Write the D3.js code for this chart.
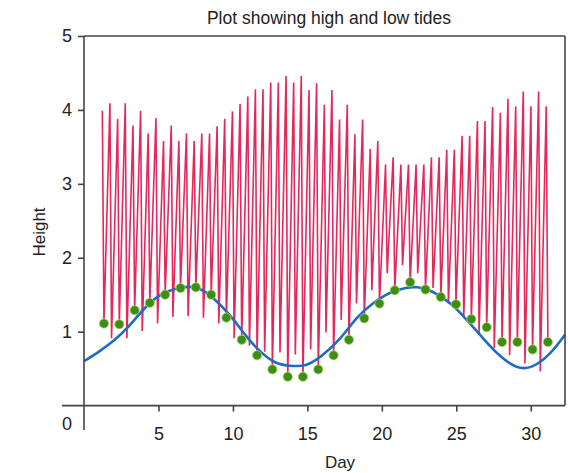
<!DOCTYPE html>
<html>
<head>
<meta charset="utf-8">
<script src="https://cdn.jsdelivr.net/npm/d3@7"></script>
<style>
    body { margin: 0; background: #fff; }
    svg text { font-family: "Liberation Sans Narrow", "Arial Narrow", "Liberation Sans", Arial, sans-serif; fill: #222; }
</style>
</head>
<body>
<div id="chart"></div>
<script>
// high tides (day, height)
const highDay = [1.23, 1.74, 2.26, 2.77, 3.29, 3.80, 4.31, 4.83, 5.34, 5.86,
    6.37, 6.88, 7.40, 7.91, 8.43, 8.94, 9.45, 9.97, 10.48, 11.00,
    11.51, 12.02, 12.54, 13.05, 13.57, 14.08, 14.59, 15.11, 15.62, 16.14,
    16.65, 17.16, 17.68, 18.19, 18.71, 19.22, 19.73, 20.25, 20.76, 21.28,
    21.79, 22.30, 22.82, 23.33, 23.85, 24.36, 24.87, 25.39, 25.90, 26.42,
    26.93, 27.44, 27.96, 28.47, 28.99, 29.50, 30.01, 30.53, 31.04];
const highHeight = [3.99, 4.09, 3.88, 4.09, 3.79, 3.99, 3.68, 3.89, 3.58, 3.79,
    3.58, 3.68, 3.58, 3.68, 3.68, 3.78, 3.88, 3.98, 4.08, 4.18,
    4.28, 4.28, 4.37, 4.37, 4.46, 4.37, 4.46, 4.27, 4.36, 4.07,
    4.27, 3.87, 4.07, 3.67, 3.87, 3.47, 3.58, 3.26, 3.36, 3.26,
    3.26, 3.26, 3.26, 3.36, 3.36, 3.46, 3.46, 3.65, 3.65, 3.85,
    3.85, 4.04, 3.96, 4.15, 4.05, 4.25, 4.05, 4.25, 4.05];

// one low tide per day, marked with green dots
const dotDay = [1.34, 2.37, 3.40, 4.42, 5.45, 6.48, 7.51, 8.54, 9.56, 10.59,
    11.62, 12.65, 13.68, 14.70, 15.73, 16.76, 17.79, 18.82, 19.84, 20.87,
    21.90, 22.93, 23.96, 24.98, 26.01, 27.04, 28.07, 29.10, 30.12, 31.15];
const dotHeight = [1.11, 1.10, 1.29, 1.39, 1.50, 1.59, 1.60, 1.50, 1.19, 0.89,
    0.68, 0.49, 0.39, 0.39, 0.49, 0.68, 0.89, 1.18, 1.38, 1.56,
    1.67, 1.57, 1.47, 1.37, 1.17, 1.06, 0.86, 0.86, 0.76, 0.86];

// the other low tide of each day
const otherLowDay = [1.85, 2.88, 3.91, 4.94, 5.97, 6.99, 8.02, 9.05, 10.08, 11.11,
    12.13, 13.16, 14.19, 15.22, 16.25, 17.27, 18.30, 19.33, 20.36, 21.39,
    22.41, 23.44, 24.47, 25.50, 26.53, 27.55, 28.58, 29.61, 30.64];
const otherLowHeight = [0.91, 0.91, 1.01, 1.11, 1.20, 1.21, 1.19, 1.11, 0.91, 0.81,
    0.73, 0.72, 0.69, 0.76, 0.99, 1.16, 1.38, 1.56, 1.79, 1.90,
    1.79, 1.59, 1.38, 1.20, 0.98, 0.78, 0.68, 0.57, 0.46];

// fitted curve
const curveDay = [0, 1.0, 2.0, 2.9, 4.0, 5.1, 6.4, 7.6, 8.7, 9.8, 10.9,
    11.8, 12.8, 13.8, 14.9, 16.0, 17.2, 18.3, 19.4, 20.5, 21.6,
    22.4, 23.4, 24.6, 25.7, 26.8, 27.9, 29.0, 30.1, 31.3, 32.3];
const curveHeight = [0.60, 0.73, 0.88, 1.05, 1.30, 1.49, 1.59, 1.59, 1.45, 1.22, 0.94,
    0.74, 0.59, 0.54, 0.55, 0.68, 0.91, 1.18, 1.38, 1.52, 1.59,
    1.60, 1.54, 1.38, 1.16, 0.91, 0.68, 0.53, 0.53, 0.71, 0.96];

const xTicks = [5, 10, 15, 20, 25, 30];
const yTicks = [1, 2, 3, 4, 5];

const width = 568;
const height = 473;

const xScale = d3.scaleLinear().domain([0, 32.3]).range([84, 565]);
const yScale = d3.scaleLinear().domain([0, 5]).range([405.6, 36]);

const svg = d3.select("#chart")
    .append("svg")
    .attr("width", width)
    .attr("height", height);

// zigzag: high, then low, then high ...
const tide = [];
for (let i = 0; i < highDay.length; i++) {
    tide.push([highDay[i], highHeight[i]]);
    if (i % 2 === 0) {
        tide.push([dotDay[i / 2], dotHeight[i / 2]]);
    } else {
        tide.push([otherLowDay[(i - 1) / 2], otherLowHeight[(i - 1) / 2]]);
    }
}

const line = d3.line()
    .x(d => xScale(d[0]))
    .y(d => yScale(d[1]));

svg.append("path")
    .datum(tide)
    .attr("fill", "none")
    .attr("stroke", "#e3285c")
    .attr("stroke-width", 1.6)
    .attr("d", line);

svg.append("path")
    .datum(curveDay.map((d, i) => [d, curveHeight[i]]))
    .attr("fill", "none")
    .attr("stroke", "#1f6cc4")
    .attr("stroke-width", 2.6)
    .attr("d", line.curve(d3.curveNatural));

svg.selectAll("circle")
    .data(dotDay)
    .enter()
    .append("circle")
    .attr("cx", d => xScale(d))
    .attr("cy", (d, i) => yScale(dotHeight[i]))
    .attr("r", 4.6)
    .attr("fill", "#3a8f1c")
    .attr("stroke", "#b9d24a")
    .attr("stroke-width", 0.8);

// frame
const frame = svg.append("g")
    .attr("stroke", "#444")
    .attr("stroke-width", 1.6);
frame.append("line")
    .attr("x1", xScale(0)).attr("x2", xScale(32.3))
    .attr("y1", yScale(5)).attr("y2", yScale(5));
frame.append("line")
    .attr("x1", xScale(32.3)).attr("x2", xScale(32.3))
    .attr("y1", yScale(5)).attr("y2", yScale(0));
frame.append("line")
    .attr("x1", 62).attr("x2", xScale(32.3))
    .attr("y1", yScale(0)).attr("y2", yScale(0));
frame.append("line")
    .attr("x1", xScale(0)).attr("x2", xScale(0))
    .attr("y1", yScale(5)).attr("y2", 430);

const xAxis = svg.append("g")
    .attr("transform", "translate(0," + yScale(0) + ")")
    .call(d3.axisBottom(xScale)
        .tickValues(xTicks)
        .tickSize(6)
        .tickPadding(16));
const yAxis = svg.append("g")
    .attr("transform", "translate(" + xScale(0) + ",0)")
    .call(d3.axisLeft(yScale)
        .tickValues(yTicks)
        .tickFormat(d3.format("d"))
        .tickSize(6)
        .tickPadding(6));

[xAxis, yAxis].forEach(g => {
    g.select(".domain").remove();
    g.selectAll(".tick line").attr("stroke", "#444").attr("stroke-width", 1.6);
    g.selectAll(".tick text")
        .style("font-family", '"Liberation Sans Narrow", "Arial Narrow", "Liberation Sans", Arial, sans-serif')
        .style("font-size", "18px")
        .attr("fill", "#222");
});

svg.append("text")
    .attr("x", 72)
    .attr("y", 430)
    .attr("text-anchor", "end")
    .style("font-size", "18px")
    .text("0");

svg.append("text")
    .attr("x", 329)
    .attr("y", 24)
    .attr("text-anchor", "middle")
    .style("font-size", "17.5px")
    .text("Plot showing high and low tides");

svg.append("text")
    .attr("x", 340)
    .attr("y", 468)
    .attr("text-anchor", "middle")
    .style("font-size", "17px")
    .text("Day");

svg.append("text")
    .attr("transform", "translate(45,232) rotate(-90)")
    .attr("text-anchor", "middle")
    .style("font-size", "17px")
    .text("Height");
</script>
</body>
</html>
